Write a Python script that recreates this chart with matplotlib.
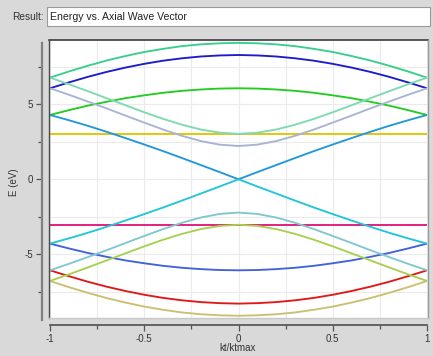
import matplotlib
matplotlib.use("Agg")
import matplotlib.pyplot as plt
from matplotlib.lines import Line2D
from matplotlib.patches import Rectangle

plt.rcParams['font.family'] = ['Liberation Sans', 'DejaVu Sans']

# ---- data ----
k = [-1.0, -0.9, -0.8, -0.7, -0.6, -0.5, -0.4, -0.3, -0.2, -0.1, 0.0,
     0.1, 0.2, 0.3, 0.4, 0.5, 0.6, 0.7, 0.8, 0.9, 1.0]

# conduction-side bands
band_c1 = [6.78, 7.19, 7.57, 7.92, 8.22, 8.49, 8.70, 8.88, 9.00, 9.07, 9.10,
           9.07, 9.00, 8.88, 8.70, 8.49, 8.22, 7.92, 7.57, 7.19, 6.78]
band_c2 = [6.07, 6.46, 6.83, 7.16, 7.45, 7.70, 7.91, 8.07, 8.19, 8.26, 8.29,
           8.26, 8.19, 8.07, 7.91, 7.70, 7.45, 7.16, 6.83, 6.46, 6.07]
band_c3 = [4.29, 4.61, 4.91, 5.17, 5.41, 5.60, 5.77, 5.90, 5.99, 6.05, 6.07,
           6.05, 5.99, 5.90, 5.77, 5.60, 5.41, 5.17, 4.91, 4.61, 4.29]
band_c4 = [3.03, 3.03, 3.03, 3.03, 3.03, 3.03, 3.03, 3.03, 3.03, 3.03, 3.03,
           3.03, 3.03, 3.03, 3.03, 3.03, 3.03, 3.03, 3.03, 3.03, 3.03]
band_c5 = [4.29, 3.94, 3.57, 3.17, 2.75, 2.32, 1.88, 1.42, 0.95, 0.48, 0.00,
           0.48, 0.95, 1.42, 1.88, 2.32, 2.75, 3.17, 3.57, 3.94, 4.29]
band_c6 = [6.07, 5.64, 5.19, 4.73, 4.25, 3.78, 3.32, 2.90, 2.55, 2.31, 2.22,
           2.31, 2.55, 2.90, 3.32, 3.78, 4.25, 4.73, 5.19, 5.64, 6.07]
band_c7 = [6.78, 6.34, 5.88, 5.41, 4.94, 4.47, 4.03, 3.64, 3.32, 3.11, 3.03,
           3.11, 3.32, 3.64, 4.03, 4.47, 4.94, 5.41, 5.88, 6.34, 6.78]

# valence-side bands
band_v1 = [-6.78, -7.19, -7.57, -7.92, -8.22, -8.49, -8.70, -8.88, -9.00, -9.07, -9.10,
           -9.07, -9.00, -8.88, -8.70, -8.49, -8.22, -7.92, -7.57, -7.19, -6.78]
band_v2 = [-6.07, -6.46, -6.83, -7.16, -7.45, -7.70, -7.91, -8.07, -8.19, -8.26, -8.29,
           -8.26, -8.19, -8.07, -7.91, -7.70, -7.45, -7.16, -6.83, -6.46, -6.07]
band_v3 = [-4.29, -4.61, -4.91, -5.17, -5.41, -5.60, -5.77, -5.90, -5.99, -6.05, -6.07,
           -6.05, -5.99, -5.90, -5.77, -5.60, -5.41, -5.17, -4.91, -4.61, -4.29]
band_v4 = [-3.03, -3.03, -3.03, -3.03, -3.03, -3.03, -3.03, -3.03, -3.03, -3.03, -3.03,
           -3.03, -3.03, -3.03, -3.03, -3.03, -3.03, -3.03, -3.03, -3.03, -3.03]
band_v5 = [-4.29, -3.94, -3.57, -3.17, -2.75, -2.32, -1.88, -1.42, -0.95, -0.48, 0.00,
           -0.48, -0.95, -1.42, -1.88, -2.32, -2.75, -3.17, -3.57, -3.94, -4.29]
band_v6 = [-6.07, -5.64, -5.19, -4.73, -4.25, -3.78, -3.32, -2.90, -2.55, -2.31, -2.22,
           -2.31, -2.55, -2.90, -3.32, -3.78, -4.25, -4.73, -5.19, -5.64, -6.07]
band_v7 = [-6.78, -6.34, -5.88, -5.41, -4.94, -4.47, -4.03, -3.64, -3.32, -3.11, -3.03,
           -3.11, -3.32, -3.64, -4.03, -4.47, -4.94, -5.41, -5.88, -6.34, -6.78]

bands = [band_c1, band_c2, band_c3, band_c4, band_c5, band_c6, band_c7,
         band_v1, band_v2, band_v3, band_v4, band_v5, band_v6, band_v7]
colors = ["#38cf8c", "#1c1ccc", "#22cc22", "#e0c600", "#2297dc", "#a9b3d3", "#7fd9b2",
          "#cbc072", "#e01818", "#4262dc", "#e2187a", "#22c6d6", "#7fc8cf", "#a8d04e"]

x_major = [-1, -0.5, 0, 0.5, 1]
x_major_labels = ["-1", "-0.5", "0", "0.5", "1"]
x_minor = [-0.75, -0.25, 0.25, 0.75]
y_major = [-5, 0, 5]
y_major_labels = ["-5", "0", "5"]
y_minor = [-7.5, -2.5, 2.5, 7.5]

title_text = "Energy vs. Axial Wave Vector"
xlabel_text = "kt/ktmax"
ylabel_text = "E (eV)"

# ---- figure ----
W, H = 433, 356
bg = "#d9d9d9"
fig = plt.figure(figsize=(W / 100, H / 100), dpi=100, facecolor=bg)

def fx(px):
    return px / W

def fy(py):
    return 1 - py / H

# result header
fig.text(fx(12), fy(17), "Result:", fontsize=7.3, color="#333333", va="center", ha="left")
fig.patches.append(Rectangle((fx(47), fy(26)), fx(430) - fx(47), fy(7) - fy(26),
                             transform=fig.transFigure, facecolor="white",
                             edgecolor="#9a9a9a", linewidth=0.8))
fig.text(fx(50), fy(17), title_text, fontsize=7.6, color="#222222", va="center", ha="left")

# main axes
L, R, T, B = 49, 428, 40, 318
ax = fig.add_axes([fx(L), fy(B), fx(R) - fx(L), fy(T) - fy(B)])
ax.set_facecolor("white")

for yv, c in zip(bands, colors):
    ax.plot(k, yv, color=c, lw=1.35, solid_capstyle="butt", zorder=3)

ax.set_xlim(-1.0053, 1.0053)
ax.set_ylim(-9.25, 9.29)

ax.set_xticks(x_major)
ax.set_xticklabels(x_major_labels)
ax.set_xticks(x_minor, minor=True)
ax.set_yticks(y_major)
ax.set_yticklabels(y_major_labels)
ax.set_yticks(y_minor, minor=True)

ax.grid(True, which="both", color="#ebebeb", lw=0.8, zorder=0)
ax.set_axisbelow(True)

for s in ["top", "right"]:
    ax.spines[s].set_visible(False)
ax.spines["left"].set_position(("outward", 5))
ax.spines["bottom"].set_position(("outward", 5))
ax.spines["left"].set_bounds(-9.4, 9.07)
ax.spines["bottom"].set_bounds(-1, 1)
ax.spines["left"].set_color("#808080")
ax.spines["left"].set_linewidth(1.6)
ax.spines["bottom"].set_color("#505050")
ax.spines["bottom"].set_linewidth(1.2)

ax.tick_params(which="major", direction="out", length=4.5, width=0.9, colors="#555555",
               labelsize=7, labelcolor="#333333", pad=2)
ax.tick_params(which="minor", direction="out", length=3, width=0.9, colors="#555555")

# frame around plot area
frame_kw = dict(transform=ax.transAxes, clip_on=False, zorder=5)
ax.add_line(Line2D([0, 1], [1, 1], color="#3c3c3c", lw=1.2, **frame_kw))
ax.add_line(Line2D([0, 0], [0, 1], color="#4a4a4a", lw=1.0, **frame_kw))
ax.add_line(Line2D([1, 1], [0, 1], color="#9a9a9a", lw=1.0, **frame_kw))
ax.add_line(Line2D([0, 1], [0, 0], color="#c8c8c8", lw=1.0, **frame_kw))

# axis labels
fig.text(fx(238), fy(348), xlabel_text, fontsize=7, color="#333333", ha="center", va="center")
fig.text(fx(14), fy(182), ylabel_text, fontsize=7, color="#333333", ha="center", va="center",
         rotation=90)

fig.savefig("out.png", dpi=100, facecolor=bg)
